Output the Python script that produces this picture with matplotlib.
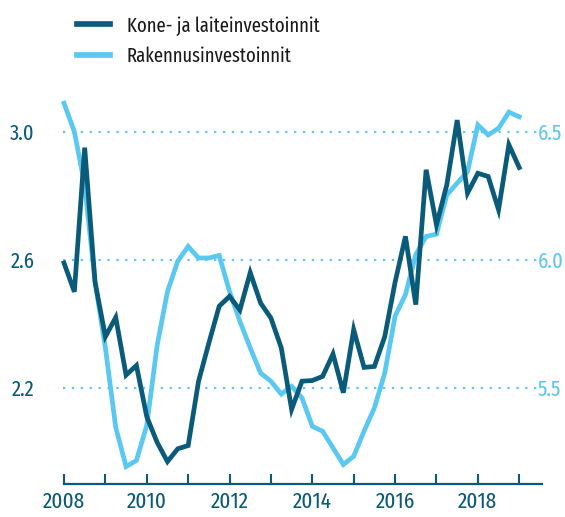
import numpy as np
import matplotlib
matplotlib.use("Agg")
import matplotlib.pyplot as plt
from matplotlib import font_manager

DARK = "#0a5b79"
LIGHT = "#5bc8f2"

# quarterly, 2008Q1 .. 2019Q1
start_year = 2008
kone = [2.59, 2.50, 2.95, 2.53, 2.36, 2.42, 2.24, 2.27, 2.11, 2.03, 1.97,
        2.01, 2.02, 2.22, 2.34, 2.455, 2.486, 2.443, 2.56, 2.465, 2.418,
        2.325, 2.133, 2.221, 2.223, 2.236, 2.306, 2.185, 2.382, 2.264,
        2.267, 2.36, 2.53, 2.673, 2.46, 2.881, 2.709, 2.834, 3.036, 2.808,
        2.870, 2.86, 2.756, 2.959, 2.888]
rakennus = [6.611, 6.50, 6.292, 5.915, 5.656, 5.346, 5.193, 5.217, 5.354,
            5.665, 5.876, 5.995, 6.052, 6.007, 6.007, 6.017, 5.876, 5.76,
            5.656, 5.558, 5.526, 5.476, 5.506, 5.461, 5.35, 5.331, 5.266,
            5.201, 5.233, 5.331, 5.422, 5.558, 5.78, 5.864, 6.02, 6.091,
            6.10, 6.253, 6.299, 6.344, 6.526, 6.487, 6.513, 6.576, 6.558]
labels = ["Kone- ja laiteinvestoinnit", "Rakennusinvestoinnit"]
left_ticks = [2.2, 2.6, 3.0]
right_ticks = [5.5, 6.0, 6.5]
year_ticks = list(range(2008, 2020))
year_labels = ["2008", "", "2010", "", "2012", "", "2014", "", "2016", "", "2018", ""]

x = start_year + np.arange(len(kone)) / 4


def pick_font():
    fonts = font_manager.fontManager.ttflist
    for fam in ["Fira Sans Extra Condensed", "Fira Sans Condensed",
                "Roboto Condensed", "PT Sans Narrow", "Liberation Sans Narrow"]:
        ws = [f.weight for f in fonts if f.name == fam and f.style == "normal"]
        ws = [w for w in ws if isinstance(w, int)]
        if 400 in ws:
            return fam, 400
        if 300 in ws:
            return fam, 300
    return "DejaVu Sans", 400


fam, weight = pick_font()
plt.rcParams["font.family"] = fam
plt.rcParams["font.weight"] = weight

fig = plt.figure(figsize=(5.65, 5.17), dpi=100, facecolor="white")
ax = fig.add_axes([64 / 565, 33 / 517, 478 / 565, 384.4 / 517])
ax2 = ax.twinx()

ax.set_xlim(2008, 2019.55)
ax.set_ylim(1.9, 3.1)
ax2.set_ylim(5.125, 6.625)

for v in left_ticks:
    ax.plot([2007.98, 2019.45], [v, v], color=LIGHT, lw=1.6,
            linestyle=(0, (1, 3)), zorder=1, clip_on=False)

ax.plot(x, kone, color=DARK, lw=3.4, zorder=3, clip_on=False,
        solid_joinstyle="miter")
ax2.plot(x, rakennus, color=LIGHT, lw=3.4, zorder=2, clip_on=False,
         solid_joinstyle="miter")
ax.set_zorder(ax2.get_zorder() + 1)
ax.patch.set_visible(False)

for a in (ax, ax2):
    for s in ("top", "left", "right"):
        a.spines[s].set_visible(False)
ax2.spines["bottom"].set_visible(False)
ax.spines["bottom"].set_color(DARK)
ax.spines["bottom"].set_linewidth(1.6)

ax.set_xticks(year_ticks)
ax.set_xticklabels(year_labels)
ax.tick_params(axis="x", direction="in", length=7, width=1.5, color=DARK,
               labelcolor=DARK, labelsize=16.5, pad=5)
ax.set_yticks(left_ticks)
ax.set_yticklabels([f"{v:.1f}" for v in left_ticks])
ax.tick_params(axis="y", length=0, labelcolor=DARK, labelsize=16, pad=21)
ax2.set_yticks(right_ticks)
ax2.set_yticklabels([f"{v:.1f}" for v in right_ticks])
ax2.tick_params(axis="y", length=0, labelcolor=LIGHT, labelsize=16, pad=-3)

h1, = ax.plot([], [], color=DARK, lw=4.1)
h2, = ax.plot([], [], color=LIGHT, lw=4.1)
fig.legend([h1, h2], labels, loc="upper left",
           bbox_to_anchor=(77 / 565, 1 - 16 / 517), frameon=False,
           borderpad=0, borderaxespad=0,
           fontsize=14.5, handlelength=1.64, handletextpad=0.84,
           labelspacing=0.56, labelcolor="#1a1a1a")

fig.savefig("out.png", facecolor="white")
